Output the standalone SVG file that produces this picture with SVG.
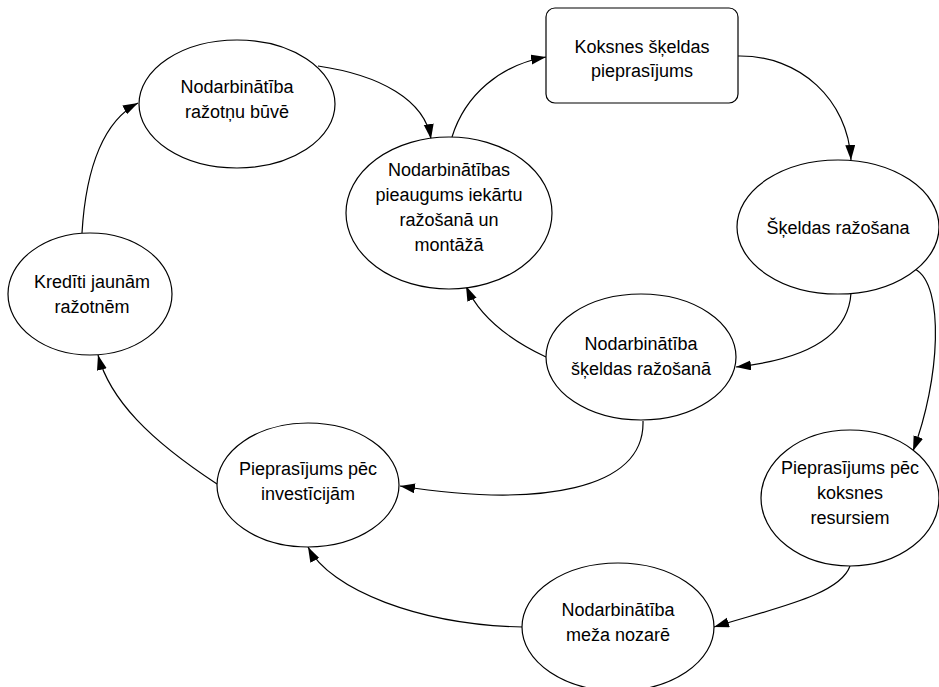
<svg xmlns="http://www.w3.org/2000/svg" width="939" height="687" viewBox="0 0 939 687">
<style>
.n{fill:#fff;stroke:#000;stroke-width:1.2}
.t{font-family:"Liberation Sans",Arial,sans-serif;font-size:18px;fill:#000;text-anchor:middle}
.c{fill:none;stroke:#000;stroke-width:1.2;marker-end:url(#ah)}
</style>
<defs>
<marker id="ah" markerUnits="userSpaceOnUse" markerWidth="16" markerHeight="12" refX="15" refY="5" orient="auto">
<path d="M0,0 L15,5 L0,10 Z" fill="#000"/>
</marker>
</defs>
<rect width="939" height="687" fill="#fff"/>
<g id="connectors">
<path class="c" d="M82,233 C86,165 105,120 138,103"/>
<path class="c" d="M318,66 C380,75 425,100 431,139"/>
<path class="c" d="M452,137 C465,95 500,65 546,57"/>
<path class="c" d="M738,56 C800,55 848,100 851,160"/>
<path class="c" d="M851,293 C848,340 800,360 736,367"/>
<path class="c" d="M546,357 C510,340 480,318 466,286"/>
<path class="c" d="M915,269 C945,285 940,380 913,451"/>
<path class="c" d="M643,421 C645,490 540,508 400,486"/>
<path class="c" d="M850,566 C840,595 775,608 714,627"/>
<path class="c" d="M523,627 C420,625 330,590 308,547"/>
<path class="c" d="M217,484 C150,440 110,400 98,355"/>
</g>
<g id="n_razotnu_buve">
<ellipse class="n" cx="237" cy="104" rx="98" ry="64"/>
<text class="t" x="237" y="93">Nodarbinātība</text>
<text class="t" x="237" y="118">ražotņu būvē</text>
</g>
<g id="n_pieprasijums">
<rect class="n" x="546" y="8" width="192" height="95" rx="9"/>
<text class="t" x="642" y="53">Koksnes šķeldas</text>
<text class="t" x="642" y="77">pieprasījums</text>
</g>
<g id="n_pieaugums">
<ellipse class="n" cx="449" cy="213" rx="103" ry="76"/>
<text class="t" x="449" y="176">Nodarbinātības</text>
<text class="t" x="449" y="201">pieaugums iekārtu</text>
<text class="t" x="449" y="226">ražošanā un</text>
<text class="t" x="449" y="251">montāžā</text>
</g>
<g id="n_skeldas_razosana">
<ellipse class="n" cx="838" cy="227" rx="101" ry="67"/>
<text class="t" x="838" y="234">Šķeldas ražošana</text>
</g>
<g id="n_krediti">
<ellipse class="n" cx="90" cy="294" rx="82" ry="61"/>
<text class="t" x="92" y="288">Kredīti jaunām</text>
<text class="t" x="92" y="313">ražotnēm</text>
</g>
<g id="n_nodarb_skeldas">
<ellipse class="n" cx="641" cy="357" rx="95" ry="63"/>
<text class="t" x="641" y="350">Nodarbinātība</text>
<text class="t" x="641" y="375">šķeldas ražošanā</text>
</g>
<g id="n_investicijas">
<ellipse class="n" cx="308" cy="485" rx="91" ry="62"/>
<text class="t" x="308" y="475">Pieprasījums pēc</text>
<text class="t" x="308" y="500">investīcijām</text>
</g>
<g id="n_koksnes_resursi">
<ellipse class="n" cx="850" cy="498" rx="89" ry="68"/>
<text class="t" x="850" y="474">Pieprasījums pēc</text>
<text class="t" x="850" y="499">koksnes</text>
<text class="t" x="850" y="524">resursiem</text>
</g>
<g id="n_meza_nozare">
<ellipse class="n" cx="618" cy="627" rx="96" ry="64"/>
<text class="t" x="618" y="616">Nodarbinātība</text>
<text class="t" x="618" y="641">meža nozarē</text>
</g>
</svg>
